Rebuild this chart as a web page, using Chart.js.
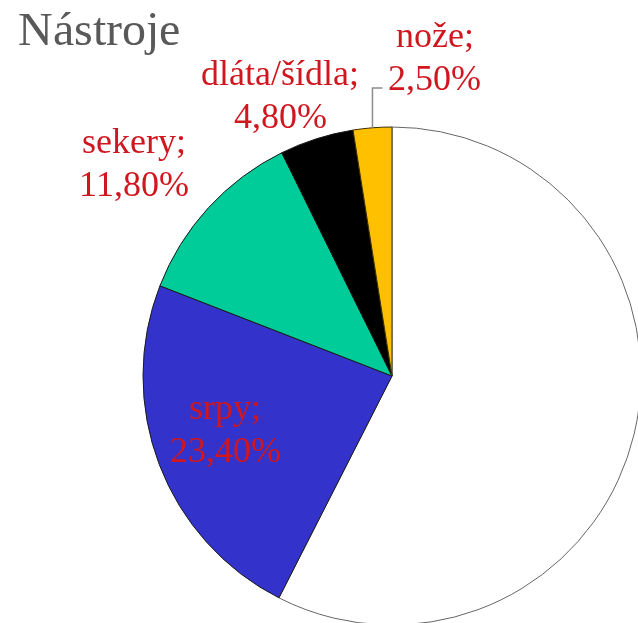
<!DOCTYPE html>
<html>
<head>
<meta charset="utf-8">
<script src="https://cdn.jsdelivr.net/npm/chart.js@4/dist/chart.umd.min.js"></script>
<style>
  @font-face{font-family:'PieSerif';src:local('Liberation Serif'),local('LiberationSerif'),local('Tinos'),local('Times New Roman');}
  body{margin:0;background:#fff;}
  #wrap{position:absolute;left:0;top:0;width:660px;height:700px;overflow:hidden;}
  .txt{position:absolute;white-space:nowrap;font-family:PieSerif,Times,'Liberation Serif',serif;}
  #ttl{left:18px;top:0;font-size:48px;line-height:58px;color:#595959;}
  .lab{font-size:36px;line-height:43px;color:#d0161e;text-align:center;transform:translateX(-50%);}
</style>
</head>
<body>
<div id="wrap"><canvas id="pie" width="660" height="700"></canvas></div>
<div id="ttl" class="txt"></div>
<script>
/* Nástroje – pie of tool types */
const title = 'Nástroje';
const labels = ['', 'srpy', 'sekery', 'dláta/šídla', 'nože'];
const values = [57.5, 23.4, 11.8, 4.8, 2.5];
const shown = ['', '23,40%', '11,80%', '4,80%', '2,50%'];

const colors = ['#ffffff', '#3333cc', '#00cc99', '#000000', '#ffc000'];
const edges = ['#666666', '#1a1a1a', '#1a1a1a', '#1a1a1a', '#3a3000'];
// where each label sits: fraction of radius along mid angle, then px nudge (first baseline)
const place = [null, {k:0.7, dx:-4, dy:-21}, {k:1.3, dx:-19, dy:-6}, {k:1.2, dx:-21, dy:-8}, {k:1.2, dx:66, dy:-33}];

document.getElementById('ttl').textContent = title;

// only the leader line is drawn on the canvas, the text lives in the page
const leaderPlugin = {
  id: 'leader',
  afterDatasetsDraw(chart){
    const c = chart.ctx;
    const arc = chart.getDatasetMeta(0).data[4];
    const p = place[4];
    const a = (arc.startAngle + arc.endAngle) / 2;
    const y = arc.y + Math.sin(a) * arc.outerRadius * p.k + p.dy;
    const ex = arc.x + Math.cos(a) * arc.outerRadius;
    const ey = arc.y + Math.sin(a) * arc.outerRadius;
    c.save();
    c.strokeStyle = '#8c8c8c';
    c.lineWidth = 1.5;
    c.beginPath();
    c.moveTo(ex, ey);
    c.lineTo(ex, y + 43);
    c.lineTo(ex + 10, y + 43);
    c.stroke();
    c.restore();
  }
};

const chart = new Chart(document.getElementById('pie'), {
  type: 'pie',
  data: {
    labels,
    datasets: [{
      data: values,
      backgroundColor: colors,
      borderColor: edges,
      borderWidth: 1
    }]
  },
  options: {
    responsive: false,
    animation: false,
    radius: 249,
    layout: { padding: { left: 143, top: 127, right: 19, bottom: 75 } },
    plugins: { legend: { display: false }, tooltip: { enabled: false } }
  },
  plugins: [leaderPlugin]
});

// place the slice labels from the arc geometry
chart.getDatasetMeta(0).data.forEach((arc, i)=>{
  const p = place[i];
  if(!p) return;
  const a = (arc.startAngle + arc.endAngle) / 2;
  const x = arc.x + Math.cos(a) * arc.outerRadius * p.k + p.dx;
  const y = arc.y + Math.sin(a) * arc.outerRadius * p.k + p.dy;
  const d = document.createElement('div');
  d.className = 'txt lab';
  d.style.left = x + 'px';
  d.style.top = (y - 31) + 'px';   // first baseline sits ~31px below the box top
  d.innerHTML = labels[i] + ';<br>' + shown[i];
  document.body.appendChild(d);
});
</script>
</body>
</html>
